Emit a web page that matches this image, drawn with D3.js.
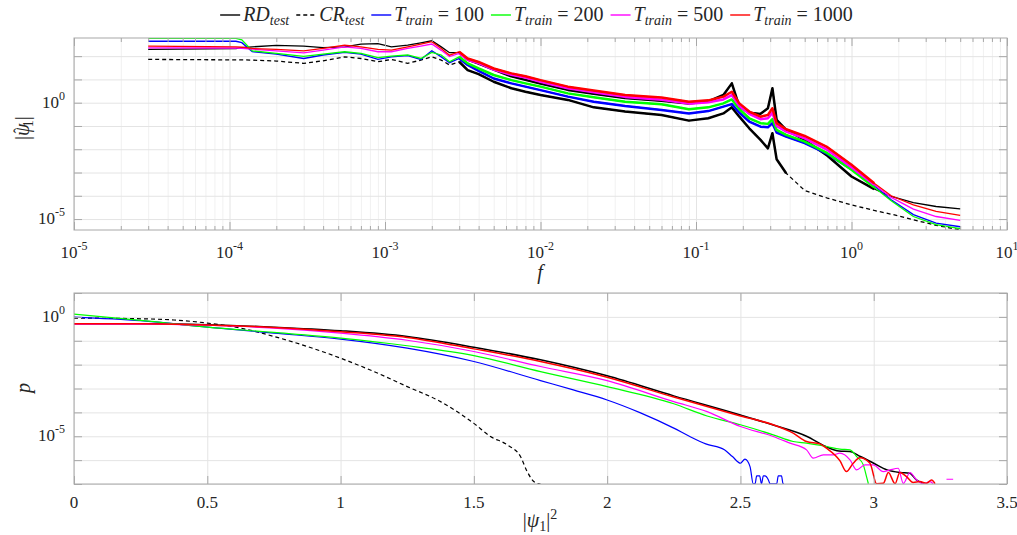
<!DOCTYPE html>
<html>
<head>
<meta charset="utf-8">
<script src="https://cdn.jsdelivr.net/npm/d3@7"></script>
<style>
  body { margin: 0; background: #fff; }
  svg text { fill: #262626; font-family: "Liberation Serif", "Times New Roman", Times, "DejaVu Serif", serif; }
</style>
</head>
<body>
<div id="chart"></div>
<script>
// ---------- data ----------
// top panel: amplitude spectrum, stored as log10(|psi_1 hat|) on a shared frequency grid
var freq = [3e-5, 1.1e-4, 1.2e-4, 1.4e-4, 2e-4, 3e-4, 4e-4, 5.5e-4, 7e-4, 9e-4, 1.1e-3, 1.4e-3, 1.7e-3, 2e-3,
            2.3e-3, 2.6e-3, 3e-3, 3.4e-3, 4e-3, 5e-3, 6.5e-3, 8e-3, 1e-2, 1.5e-2, 2.2e-2, 3.5e-2, 6e-2, 9e-2, 0.12,
            0.15, 0.17, 0.19, 0.22, 0.26, 0.29, 0.31, 0.33, 0.38, 0.5, 0.7, 1.0, 1.4, 1.8, 2.5, 3.5, 5];

var rdSpecLog = [2.29, 2.32, 2.37, 2.40, 2.46, 2.43, 2.37, 2.40, 2.52, 2.54, 2.40, 2.47, 2.57, 2.66,
                 2.40, 2.15, 2.15, 1.85, 1.68, 1.42, 1.13, 0.98, 0.82, 0.55, 0.38, 0.20, 0.08, -0.04, 0.06,
                 0.33, 0.83, -0.17, -0.43, -0.48, -0.24, 0.62, -0.74, -1.17, -1.60, -2.28, -3.17, -3.71, -4.03, -4.29, -4.46, -4.56];
var crSpecLog = [1.86, 1.84, 1.84, 1.83, 1.79, 1.69, 1.80, 1.97, 1.90, 1.76, 1.86, 1.69, 1.83, 1.97,
                 1.83, 1.62, 1.76, 1.40, 1.23, 0.90, 0.62, 0.47, 0.33, 0.12, -0.20, -0.38, -0.53, -0.77, -0.67,
                 -0.46, -0.20, -0.60, -1.10, -1.60, -1.96, -1.31, -2.43, -3.03, -3.77, -4.10, -4.39, -4.63, -4.79, -5.03, -5.27, -5.46];
var t100SpecLog = [2.64, 2.64, 2.58, 2.19, 2.09, 1.90, 2.05, 2.16, 2.09, 1.86, 1.97, 2.02, 1.86, 2.23,
                   1.97, 1.72, 1.90, 1.62, 1.37, 1.04, 0.83, 0.69, 0.54, 0.26, 0.04, -0.14, -0.31, -0.46, -0.36,
                   -0.17, -0.06, -0.43, -0.81, -1.03, -1.06, -0.88, -1.28, -1.46, -1.74, -2.20, -2.86, -3.57, -4.17, -4.81, -5.17, -5.33];
var t200SpecLog = [2.76, 2.76, 2.70, 2.23, 2.12, 1.99, 2.09, 2.19, 2.12, 1.94, 2.00, 2.05, 1.90, 2.16,
                   2.05, 1.76, 1.97, 1.69, 1.47, 1.19, 0.97, 0.83, 0.69, 0.40, 0.23, 0.04, -0.07, -0.28, -0.20,
                   -0.03, 0.14, -0.28, -0.67, -0.88, -0.91, -0.71, -1.17, -1.38, -1.67, -2.17, -2.88, -3.63, -4.21, -4.89, -5.24, -5.41];
var t500SpecLog = [2.36, 2.35, 2.34, 2.30, 2.23, 2.14, 2.26, 2.40, 2.33, 2.19, 2.19, 2.33, 2.43, 2.52,
                   2.25, 1.98, 2.12, 1.84, 1.70, 1.42, 1.20, 1.08, 0.90, 0.62, 0.45, 0.25, 0.13, -0.04, 0.02,
                   0.14, 0.33, -0.14, -0.48, -0.71, -0.67, -0.43, -1.00, -1.24, -1.53, -2.03, -2.77, -3.53, -4.07, -4.57, -4.89, -5.06];
var t1000SpecLog = [2.43, 2.40, 2.39, 2.33, 2.29, 2.23, 2.33, 2.47, 2.40, 2.29, 2.26, 2.40, 2.52, 2.62,
                    2.33, 2.04, 2.19, 1.90, 1.75, 1.47, 1.26, 1.14, 0.97, 0.69, 0.52, 0.33, 0.22, 0.04, 0.10,
                    0.26, 0.47, -0.03, -0.38, -0.60, -0.53, -0.24, -0.88, -1.14, -1.43, -1.91, -2.67, -3.46, -4.00, -4.39, -4.67, -4.84];

// bottom panel: pdf of |psi_1|^2, stored as log10(p); null = empty bin (gap)
var rdPdfX = [0, 0.25, 0.5, 0.75, 1, 1.25, 1.5, 1.75, 2, 2.25, 2.5, 2.62, 2.75, 2.82, 2.87, 2.91, 2.95, 3.0, 3.05, 3.1, 3.135, 3.16, 3.19];
var rdPdfLog = [-0.29, -0.29, -0.33, -0.43, -0.58, -0.82, -1.27, -1.80, -2.47, -3.31, -4.11, -4.52, -5.01, -5.43, -5.62, -5.64, -5.85, -6.13, -6.41, -6.52, -6.55, -6.83, -6.99];
var crPdfX = [0, 0.25, 0.375, 0.5, 0.625, 0.75, 0.875, 1.0, 1.125, 1.25, 1.375, 1.5, 1.5625, 1.625, 1.675, 1.70, 1.73, 1.75];
var crPdfLog = [-0.05, -0.08, -0.13, -0.26, -0.47, -0.82, -1.24, -1.73, -2.29, -2.92, -3.55, -4.46, -5.01, -5.36, -5.85, -6.48, -6.94, -7.0];
var t100PdfX = [0, 0.25, 0.5, 0.75, 1, 1.25, 1.5, 1.75, 1.873, 2.0, 2.123, 2.25, 2.31, 2.37, 2.44, 2.47, 2.50, 2.517, 2.536, 2.548,
                2.555, 2.561, 2.572, 2.579, 2.586, 2.592, 2.605, 2.611, 2.623, 2.636, 2.642, 2.654, 2.660, 2.663];
var t100PdfLog = [-0.01, -0.16, -0.43, -0.68, -0.93, -1.31, -1.87, -2.67, -3.06, -3.48, -4.01, -4.66, -5.01, -5.32, -5.57, -5.85, -6.13, -5.96, -6.27, -6.99,
                  -6.99, -6.66, -6.66, -6.99, -6.66, -6.66, -6.83, -6.99, -6.99, -6.99, -6.66, -6.66, -6.99, -6.99];
var t200PdfX = [0, 0.25, 0.5, 0.75, 1, 1.25, 1.5, 1.75, 2.0, 2.25, 2.375, 2.5, 2.623, 2.698, 2.748, 2.823, 2.873, 2.911, 2.936, 2.961, 2.973, 2.98];
var t200PdfLog = [0.116, -0.15, -0.43, -0.65, -0.89, -1.21, -1.62, -2.29, -2.92, -3.64, -4.15, -4.52, -4.94, -5.22, -5.29, -5.43, -5.54, -5.57, -5.85, -6.20, -6.69, -6.99];
var t500PdfX = [0, 0.25, 0.5, 0.75, 1, 1.25, 1.5, 1.75, 2.0, 2.25, 2.375, 2.5, 2.623, 2.686, 2.748, 2.773, 2.811, 2.848, 2.873, 2.911,
                2.936, 2.967, 2.998, 3.036, 3.061, 3.092, 3.111, 3.136, 3.161, 3.186, 3.211, 3.223, 3.25, 3.273, 3.298];
var t500PdfLog = [-0.30, -0.30, -0.35, -0.47, -0.68, -0.98, -1.45, -2.08, -2.67, -3.55, -3.97, -4.59, -5.01, -5.29, -5.57, -5.92, -5.78, -5.78, -5.71, -5.99,
                  -6.41, -6.20, -6.20, -6.48, -6.41, -6.34, -6.97, -6.52, -6.83, -6.99, -6.90, -6.99, null, -6.80, -6.80];
var t1000PdfX = [0, 0.25, 0.5, 0.75, 1, 1.25, 1.5, 1.75, 2.0, 2.25, 2.5, 2.623, 2.698, 2.748, 2.798, 2.823, 2.873, 2.898, 2.923, 2.948,
                 2.986, 3.011, 3.036, 3.055, 3.080, 3.098, 3.123, 3.148, 3.173, 3.198, 3.217, 3.230];
var t1000PdfLog = [-0.29, -0.29, -0.34, -0.44, -0.62, -0.86, -1.34, -1.87, -2.53, -3.36, -4.15, -4.52, -4.87, -5.22, -5.32, -5.50, -6.02, -6.48, -6.13, -5.90,
                   -6.13, -6.99, -6.97, -6.52, -6.99, -6.52, -6.69, -6.94, -6.90, -6.97, -6.83, -6.99];

// legend text
var legendMain = ["RD", "CR", "T", "T", "T", "T"];
var legendSub = ["test", "test", "train", "train", "train", "train"];
var legendRest = ["", "", "\u00a0=\u00a0100", "\u00a0=\u00a0200", "\u00a0=\u00a0500", "\u00a0=\u00a01000"];

// ---------- styles ----------
var colors = ["#000000", "#000000", "#0000ff", "#00ff00", "#ff00ff", "#ff0000"];
var dashes = [null, "4,3", null, null, null, null];
var specSeries = [rdSpecLog, crSpecLog, t100SpecLog, t200SpecLog, t500SpecLog, t1000SpecLog];
var pdfSeriesX = [rdPdfX, crPdfX, t100PdfX, t200PdfX, t500PdfX, t1000PdfX];
var pdfSeriesY = [rdPdfLog, crPdfLog, t100PdfLog, t200PdfLog, t500PdfLog, t1000PdfLog];
// f range where the spectra look like a thick noisy band
var noisyLo = [3e-3, 3e-3, 3e-3, 3e-3, 3e-3, 3e-3];
var noisyHi = [1.4, 0.45, 1.4, 1.4, 1.4, 1.4];

var boxColor = "#a8a8a8", gridMajor = "#e4e4e4", gridMinor = "#f1f1f1";

var svg = d3.select("#chart").append("svg")
  .attr("width", 1017).attr("height", 535);

var L = 74, R = 1007;
var top1 = 38, bot1 = 230, top2 = 293, bot2 = 484;

var x1 = d3.scaleLog().domain([1e-5, 10]).range([L, R]);
var y1 = d3.scaleLog().domain([Math.pow(10, -5.47), Math.pow(10, 2.78)]).range([bot1, top1]);
var x2 = d3.scaleLinear().domain([0, 3.5]).range([L, R]);
var y2 = d3.scaleLog().domain([1e-7, 10]).range([bot2, top2]);

var xMajor1 = d3.range(-5, 2).map(function(k) { return Math.pow(10, k); });
var xMinor1 = [];
d3.range(-5, 1).forEach(function(k) { d3.range(2, 10).forEach(function(m) { xMinor1.push(m * Math.pow(10, k)); }); });
var yDec1 = d3.range(-5, 3).map(function(k) { return Math.pow(10, k); });
var xTicks2 = d3.range(0, 3.51, 0.5);
var yDec2 = d3.range(-7, 2).map(function(k) { return Math.pow(10, k); });

function grid(g, axis, color) {
  g.call(axis);
  g.select(".domain").remove();
  g.selectAll(".tick line").attr("stroke", color).attr("stroke-width", 1);
}

function panel(xs, ys, t, b, xMaj, xMin, yTicks) {
  var h = b - t, w = R - L;
  var g = svg.append("g");
  if (xMin) grid(g.append("g").attr("transform", "translate(0," + b + ")"),
    d3.axisBottom(xs).tickValues(xMin).tickSize(-h).tickFormat(""), gridMinor);
  grid(g.append("g").attr("transform", "translate(0," + b + ")"),
    d3.axisBottom(xs).tickValues(xMaj).tickSize(-h).tickFormat(""), gridMajor);
  grid(g.append("g").attr("transform", "translate(" + L + ",0)"),
    d3.axisLeft(ys).tickValues(yTicks).tickSize(-w).tickFormat(""), gridMajor);
  return g;
}

function ticks(xs, ys, t, b, xMaj, xMin, yTicks) {
  var g = svg.append("g");
  function add(axis, tr) {
    var a = g.append("g").attr("transform", tr).call(axis);
    a.select(".domain").remove();
    a.selectAll(".tick line").attr("stroke", boxColor);
  }
  add(d3.axisBottom(xs).tickValues(xMaj).tickSize(-8).tickFormat(""), "translate(0," + b + ")");
  add(d3.axisTop(xs).tickValues(xMaj).tickSize(-8).tickFormat(""), "translate(0," + t + ")");
  if (xMin) {
    add(d3.axisBottom(xs).tickValues(xMin).tickSize(-4).tickFormat(""), "translate(0," + b + ")");
    add(d3.axisTop(xs).tickValues(xMin).tickSize(-4).tickFormat(""), "translate(0," + t + ")");
  }
  add(d3.axisLeft(ys).tickValues(yTicks).tickSize(-8).tickFormat(""), "translate(" + L + ",0)");
  add(d3.axisRight(ys).tickValues(yTicks).tickSize(-8).tickFormat(""), "translate(" + R + ",0)");
  g.append("rect").attr("x", L).attr("y", t).attr("width", R - L).attr("height", b - t)
    .attr("fill", "none").attr("stroke", boxColor).attr("stroke-width", 1);
}

function powLabel(x, y, exp, anchor) {
  var t = svg.append("text").attr("x", x).attr("y", y).attr("font-size", 17).attr("text-anchor", anchor);
  t.append("tspan").text("10");
  t.append("tspan").attr("dy", -8).attr("font-size", 12).text(exp);
  return t;
}

// ---------- top panel ----------
panel(x1, y1, top1, bot1, xMajor1, xMinor1, yDec1);

svg.append("clipPath").attr("id", "clip1").append("rect")
  .attr("x", L).attr("y", top1).attr("width", R - L).attr("height", bot1 - top1);
svg.append("clipPath").attr("id", "clip2").append("rect")
  .attr("x", L).attr("y", top2).attr("width", R - L).attr("height", bot2 - top2);

var specLine = d3.line()
  .x(function(d) { return x1(d.f); })
  .y(function(d) { return y1(d.v); });

var plot1 = svg.append("g").attr("clip-path", "url(#clip1)");
specSeries.forEach(function(s, i) {
  var pts = freq.map(function(f, j) { return { f: f, v: Math.pow(10, s[j]) }; });
  plot1.append("path").datum(pts)
    .attr("d", specLine).attr("fill", "none")
    .attr("stroke", colors[i]).attr("stroke-width", 1.3)
    .attr("stroke-dasharray", dashes[i]);
  var band = pts.filter(function(d) { return d.f >= noisyLo[i] && d.f <= noisyHi[i]; });
  plot1.append("path").datum(band)
    .attr("d", specLine).attr("fill", "none")
    .attr("stroke", colors[i]).attr("stroke-width", 2.5)
    .attr("stroke-linejoin", "round");
});

ticks(x1, y1, top1, bot1, xMajor1, xMinor1, yDec1);

xMajor1.forEach(function(v) {
  powLabel(x1(v), 258, String(Math.round(Math.log10(v))), "middle");
});
[1e-5, 1].forEach(function(v) {
  powLabel(65, y1(v) + 5, String(Math.round(Math.log10(v))), "end");
});

svg.append("text").attr("x", 540).attr("y", 279).attr("font-size", 20)
  .attr("text-anchor", "middle").attr("font-style", "italic").text("f");

// |psi-hat_1| with the hat placed by hand above the psi
var yl1 = svg.append("text").attr("font-size", 20).attr("text-anchor", "middle")
  .attr("transform", "translate(29,128) rotate(-90)");
yl1.append("tspan").text("|");
yl1.append("tspan").attr("font-style", "italic").text("\u03c8");
yl1.append("tspan").attr("dx", -10).attr("dy", -4).attr("font-size", 16).text("\u02c6");
yl1.append("tspan").attr("dx", 1).attr("dy", 8).attr("font-size", 14).text("1");
yl1.append("tspan").attr("dy", -4).text("|");

// ---------- bottom panel ----------
panel(x2, y2, top2, bot2, xTicks2, null, yDec2);

var pdfLine = d3.line()
  .defined(function(d) { return d.v !== null; })
  .curve(d3.curveMonotoneX)
  .x(function(d) { return x2(d.x); })
  .y(function(d) { return y2(d.v); });

var plot2 = svg.append("g").attr("clip-path", "url(#clip2)");
pdfSeriesX.forEach(function(xs, i) {
  var pts = xs.map(function(x, j) {
    var lv = pdfSeriesY[i][j];
    return { x: x, v: lv === null ? null : Math.pow(10, lv) };
  });
  plot2.append("path").datum(pts)
    .attr("d", pdfLine).attr("fill", "none")
    .attr("stroke", colors[i]).attr("stroke-width", i === 0 || i === 5 ? 1.5 : 1.2)
    .attr("stroke-dasharray", dashes[i]);
});

ticks(x2, y2, top2, bot2, xTicks2, null, yDec2);

xTicks2.forEach(function(v) {
  svg.append("text").attr("x", x2(v)).attr("y", 508).attr("font-size", 17)
    .attr("text-anchor", "middle").text(String(v));
});
[1e-5, 1].forEach(function(v) {
  powLabel(65, y2(v) + 5, String(Math.round(Math.log10(v))), "end");
});

var xl2 = svg.append("text").attr("x", 540).attr("y", 527).attr("font-size", 20).attr("text-anchor", "middle");
xl2.append("tspan").text("|");
xl2.append("tspan").attr("font-style", "italic").text("\u03c8");
xl2.append("tspan").attr("font-size", 14).attr("dy", 4).text("1");
xl2.append("tspan").attr("dy", -4).text("|");
xl2.append("tspan").attr("font-size", 14).attr("dy", -8).text("2");

svg.append("text").attr("font-size", 20).attr("text-anchor", "middle")
  .attr("font-style", "italic")
  .attr("transform", "translate(30,388) rotate(-90)").text("p");

// ---------- legend ----------
var lg = svg.append("g");
var cx = 0;
legendMain.forEach(function(m, i) {
  lg.append("line").attr("x1", cx).attr("x2", cx + 20).attr("y1", 15).attr("y2", 15)
    .attr("stroke", colors[i]).attr("stroke-width", 1.4)
    .attr("stroke-dasharray", dashes[i]);
  cx += 23;
  var t = lg.append("text").attr("x", cx).attr("y", 21).attr("font-size", 20);
  t.append("tspan").attr("font-style", "italic").text(m);
  t.append("tspan").attr("font-style", "italic").attr("font-size", 14).attr("dy", 4).text(legendSub[i]);
  if (legendRest[i]) t.append("tspan").attr("dy", -4).text(legendRest[i]);
  cx += t.node().getComputedTextLength() + 7;
});
lg.attr("transform", "translate(" + (540 - cx / 2) + ",0)");
</script>
</body>
</html>
